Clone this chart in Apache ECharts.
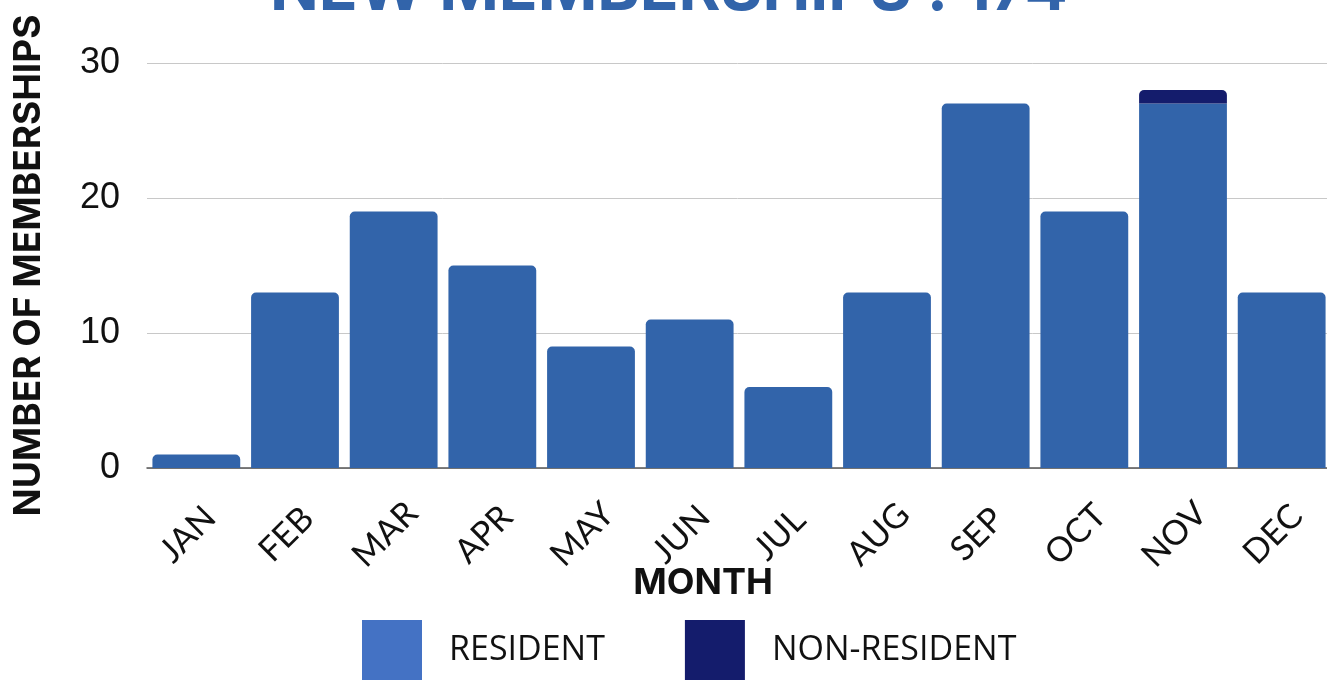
<!DOCTYPE html>
<html>
<head>
<meta charset="utf-8">
<script src="https://cdn.jsdelivr.net/npm/echarts@6/dist/echarts.min.js"></script>
<style>
html,body{margin:0;padding:0;background:#fff;}
#main{width:1327px;height:681px;}
</style>
</head>
<body>
<div id="main"></div>
<script>
// 月份
var months = ['JAN','FEB','MAR','APR','MAY','JUN','JUL','AUG','SEP','OCT','NOV','DEC'];
// 本地会员
var resident = [1,13,19,15,9,11,6,13,27,19,27,13];
// 非本地会员
var nonResident = [0,0,0,0,0,0,0,0,0,0,1,0];
var yTicks = [0,10,20,30];

var barColor = '#3264aa', nonColor = '#141c6c';
var total = 0;
for (var i = 0; i < months.length; i++) { total += resident[i] + nonResident[i]; }

//顶部圆角：有非本地数据时本地柱不加圆角
function residentData() {
    var arr = [];
    for (var i = 0; i < resident.length; i++) {
        arr.push({
            value: resident[i],
            itemStyle: { borderRadius: nonResident[i] > 0 ? 0 : [5,5,0,0] }
        });
    }
    return arr;
}
function nonResidentData() {
    var arr = [];
    for (var i = 0; i < nonResident.length; i++) {
        arr.push(nonResident[i] > 0 ? nonResident[i] : '-');
    }
    return arr;
}

var chart = echarts.init(document.getElementById('main'));
var option = {
    animation: false,
    title: {
        text: 'NEW MEMBERSHIPS : ' + total,
        left: 265,
        top: -46,
        textStyle: {
            color: barColor,
            fontFamily: 'Inter',
            fontWeight: 'bold',
            fontSize: 64
        }
    },
    legend: {
        left: 357,
        top: 615,
        itemWidth: 60,
        itemHeight: 60,
        itemGap: 80,
        icon: 'rect',
        textStyle: {
            fontFamily: 'Open Sans',
            fontSize: 34,
            color: '#111',
            padding: [0,0,0,22]
        },
        data: [
            { name: 'RESIDENT', itemStyle: { color: '#4472c4' } },
            { name: 'NON-RESIDENT', itemStyle: { color: '#141c6c' } }
        ]
    },
    grid: {
        left: 147,
        right: -4,
        top: 63,
        bottom: 213,
        outerBoundsMode: 'none'
    },
    xAxis: {
        type: 'category',
        data: months,
        name: 'MONTH',
        nameLocation: 'middle',
        nameGap: 97,
        nameMoveOverlap: false,
        nameTextStyle: {
            fontFamily: 'Inter',
            fontWeight: 'bold',
            fontSize: 36,
            color: '#111',
            padding: [0,72,0,0]
        },
        axisTick: { show: false },
        axisLine: { lineStyle: { color: '#555', width: 1.5 } },
        axisLabel: {
            rotate: 45,
            margin: 58,
            align: 'center',
            verticalAlign: 'middle',
            padding: [0,24,0,0],
            fontFamily: 'Lato',
            fontSize: 34,
            color: '#111'
        }
    },
    yAxis: {
        type: 'value',
        min: yTicks[0],
        max: yTicks[yTicks.length-1],
        interval: 10,
        name: 'NUMBER OF MEMBERSHIPS',
        nameLocation: 'middle',
        nameGap: 100,
        nameMoveOverlap: false,
        nameTextStyle: {
            fontFamily: 'Inter',
            fontWeight: 'bold',
            fontSize: 37,
            color: '#111'
        },
        axisLine: { show: false },
        axisTick: { show: false },
        axisLabel: {
            margin: 27,
            fontFamily: 'Liberation Sans',
            fontSize: 36,
            color: '#111'
        },
        splitLine: { lineStyle: { color: '#c8c8c8', width: 1 } }
    },
    series: [
        {
            name: 'RESIDENT',
            type: 'bar',
            stack: 'total',
            barCategoryGap: '11%',
            itemStyle: { color: barColor },
            data: residentData()
        },
        {
            name: 'NON-RESIDENT',
            type: 'bar',
            stack: 'total',
            barCategoryGap: '11%',
            itemStyle: { color: nonColor, borderRadius: [5,5,0,0] },
            data: nonResidentData()
        }
    ]
};
chart.setOption(option);
</script>
</body>
</html>
